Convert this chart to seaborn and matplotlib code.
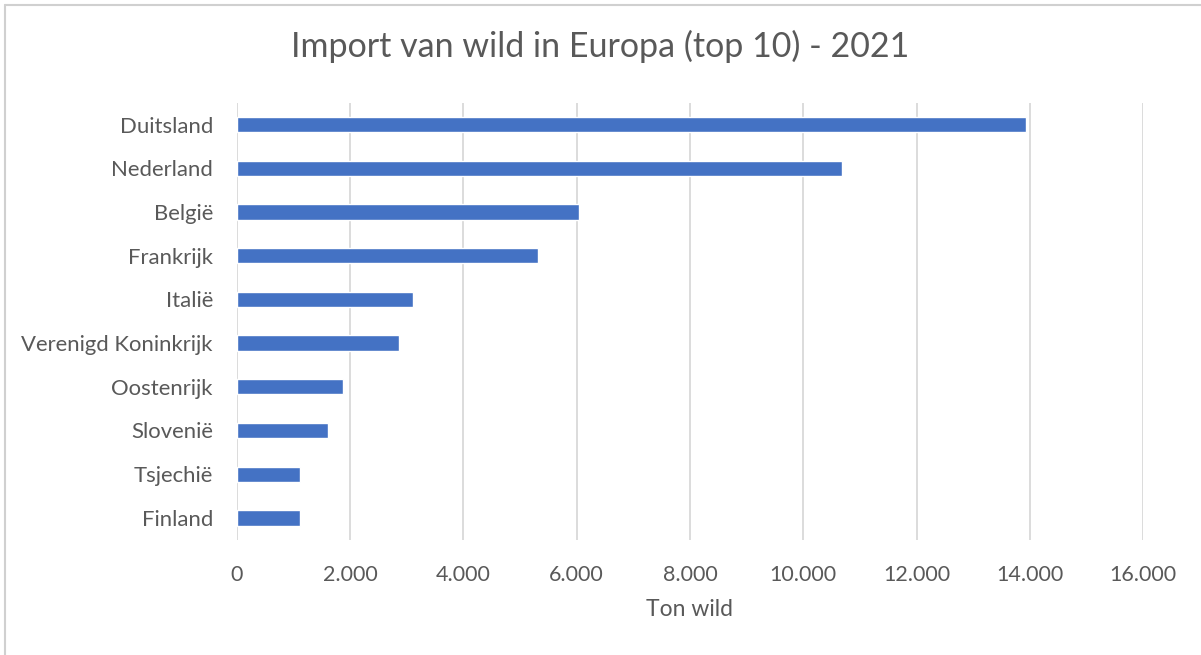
import matplotlib
matplotlib.use("Agg")
import matplotlib.pyplot as plt
import seaborn as sns
import pandas as pd
from matplotlib.ticker import FuncFormatter, MultipleLocator
from matplotlib.lines import Line2D

countries = ["Duitsland", "Nederland", "België", "Frankrijk", "Italië",
             "Verenigd Koninkrijk", "Oostenrijk", "Slovenië", "Tsjechië", "Finland"]
tonnes = [13930, 10690, 6050, 5310, 3110, 2860, 1885, 1610, 1125, 1120]
title = "Import van wild in Europa (top 10) - 2021"
xlabel = "Ton wild"

sns.set_theme(style="white")
plt.rcParams['font.family'] = ['Lato', 'DejaVu Sans']
text_col = "#595959"

df = pd.DataFrame({"land": countries, "ton": tonnes})

fig = plt.figure(figsize=(12.01, 6.55), dpi=100)
ax = fig.add_axes([0.197, 0.176, 0.755, 0.667])
sns.barplot(data=df, y="land", x="ton", color="#4472C4", width=0.35,
            saturation=1, ax=ax, orient="h")

ax.set_xlim(0, 16000)
ax.set_ylim(9.5, -0.5)
ax.xaxis.set_major_locator(MultipleLocator(2000))
ax.xaxis.set_major_formatter(FuncFormatter(lambda v, p: f"{int(v):,}".replace(",", ".")))
ax.grid(axis="x", color="#D9D9D9", linewidth=1.3)
ax.set_axisbelow(True)
for s in ax.spines.values():
    s.set_visible(False)
ax.tick_params(axis="y", length=0, labelsize=15.9, colors=text_col, pad=17)
ax.tick_params(axis="x", length=0, labelsize=15.5, colors=text_col, pad=18)
ax.set_ylabel("")
ax.set_xlabel(xlabel, fontsize=16.5, color=text_col, labelpad=10)

fig.suptitle(title, fontsize=24.5, color=text_col, y=0.955)

fig.add_artist(Line2D([0.004, 1.0], [0.992, 0.992], transform=fig.transFigure,
                      color="#D0D0D0", linewidth=1.5))
fig.add_artist(Line2D([0.0045, 0.0045], [0.0, 0.992], transform=fig.transFigure,
                      color="#D0D0D0", linewidth=1.5))

fig.savefig("out.png", dpi=100)
